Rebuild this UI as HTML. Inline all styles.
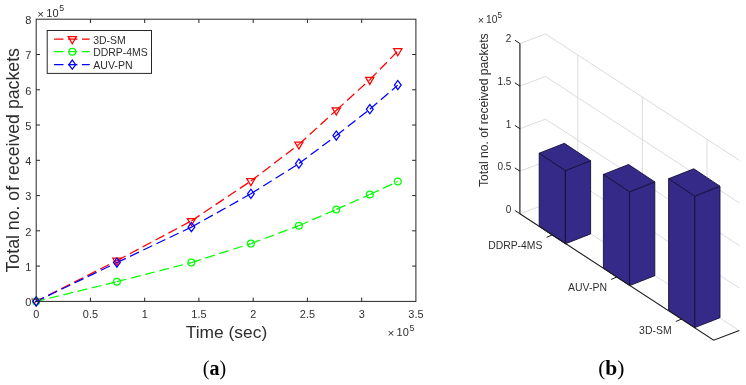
<!DOCTYPE html><html><head><meta charset="utf-8"><title>Figure</title><style>html,body{margin:0;padding:0;background:#fff}svg{display:block;will-change:transform}text{font-family:"Liberation Sans",sans-serif;fill:#2e2e2e}.s{font-family:"Liberation Serif",serif;fill:#000}</style></head><body>
<svg width="746" height="385" viewBox="0 0 746 385">
<rect width="746" height="385" fill="#fff"/>
<g>
<g id="left">
<path d="M35.1 301.9L116.9 260.6M116.9 260.6L191.4 220.9M191.4 220.9L250.9 181.0M250.9 181.0L298.9 144.4M298.9 144.4L336.3 110.3M336.3 110.3L369.8 79.7M369.8 79.7L397.8 51.1" fill="none" stroke="#ff0000" stroke-width="1.25" stroke-dasharray="9.9 4.7"/>
<path d="M35.0 301.7L116.9 281.7M116.9 281.7L191.4 262.6M191.4 262.6L250.9 243.6M250.9 243.6L298.9 225.7M298.9 225.7L336.3 209.4M336.3 209.4L369.8 194.5M369.8 194.5L397.8 181.5" fill="none" stroke="#00ff00" stroke-width="1.25" stroke-dasharray="9.9 4.7"/>
<path d="M35.1 301.9L116.9 262.6M116.9 262.6L191.4 227.1M191.4 227.1L250.9 193.8M250.9 193.8L298.9 163.6M298.9 163.6L336.3 135.6M336.3 135.6L369.8 109.2M369.8 109.2L397.8 85.1" fill="none" stroke="#0000ff" stroke-width="1.25" stroke-dasharray="9.9 4.7"/>
<polygon points="32.1,299.0 40.3,299.0 36.2,306.1" fill="none" stroke="#ff0000" stroke-width="1.25"/>
<polygon points="112.8,258.2 121.0,258.2 116.9,265.3" fill="none" stroke="#ff0000" stroke-width="1.25"/>
<polygon points="187.3,218.5 195.5,218.5 191.4,225.6" fill="none" stroke="#ff0000" stroke-width="1.25"/>
<polygon points="246.8,178.6 255.0,178.6 250.9,185.7" fill="none" stroke="#ff0000" stroke-width="1.25"/>
<polygon points="294.8,142.0 303.0,142.0 298.9,149.1" fill="none" stroke="#ff0000" stroke-width="1.25"/>
<polygon points="332.2,107.9 340.4,107.9 336.3,115.0" fill="none" stroke="#ff0000" stroke-width="1.25"/>
<polygon points="365.7,77.3 373.9,77.3 369.8,84.4" fill="none" stroke="#ff0000" stroke-width="1.25"/>
<polygon points="393.7,48.7 401.9,48.7 397.8,55.8" fill="none" stroke="#ff0000" stroke-width="1.25"/>
<circle cx="36.2" cy="301.4" r="3.4" fill="none" stroke="#00ff00" stroke-width="1.25"/>
<circle cx="116.9" cy="281.7" r="3.4" fill="none" stroke="#00ff00" stroke-width="1.25"/>
<circle cx="191.4" cy="262.6" r="3.4" fill="none" stroke="#00ff00" stroke-width="1.25"/>
<circle cx="250.9" cy="243.6" r="3.4" fill="none" stroke="#00ff00" stroke-width="1.25"/>
<circle cx="298.9" cy="225.7" r="3.4" fill="none" stroke="#00ff00" stroke-width="1.25"/>
<circle cx="336.3" cy="209.4" r="3.4" fill="none" stroke="#00ff00" stroke-width="1.25"/>
<circle cx="369.8" cy="194.5" r="3.4" fill="none" stroke="#00ff00" stroke-width="1.25"/>
<circle cx="397.8" cy="181.5" r="3.4" fill="none" stroke="#00ff00" stroke-width="1.25"/>
<polygon points="32.8,301.4 36.2,296.8 39.6,301.4 36.2,306.0" fill="none" stroke="#0000ff" stroke-width="1.25"/>
<polygon points="113.5,262.6 116.9,258.0 120.3,262.6 116.9,267.2" fill="none" stroke="#0000ff" stroke-width="1.25"/>
<polygon points="188.0,227.1 191.4,222.5 194.8,227.1 191.4,231.7" fill="none" stroke="#0000ff" stroke-width="1.25"/>
<polygon points="247.5,193.8 250.9,189.2 254.3,193.8 250.9,198.4" fill="none" stroke="#0000ff" stroke-width="1.25"/>
<polygon points="295.5,163.6 298.9,159.0 302.3,163.6 298.9,168.2" fill="none" stroke="#0000ff" stroke-width="1.25"/>
<polygon points="332.9,135.6 336.3,131.0 339.7,135.6 336.3,140.2" fill="none" stroke="#0000ff" stroke-width="1.25"/>
<polygon points="366.4,109.2 369.8,104.6 373.2,109.2 369.8,113.8" fill="none" stroke="#0000ff" stroke-width="1.25"/>
<polygon points="394.4,85.1 397.8,80.5 401.2,85.1 397.8,89.7" fill="none" stroke="#0000ff" stroke-width="1.25"/>
<rect x="36.2" y="19.2" width="379.7" height="282.2" fill="none" stroke="#262626" stroke-width="1"/>
<path d="M90.4 301.4V297.6M90.4 19.2V23.0M144.7 301.4V297.6M144.7 19.2V23.0M198.9 301.4V297.6M198.9 19.2V23.0M253.2 301.4V297.6M253.2 19.2V23.0M307.4 301.4V297.6M307.4 19.2V23.0M361.7 301.4V297.6M361.7 19.2V23.0M36.2 266.1H40.0M415.9 266.1H412.1M36.2 230.8H40.0M415.9 230.8H412.1M36.2 195.6H40.0M415.9 195.6H412.1M36.2 160.3H40.0M415.9 160.3H412.1M36.2 125.0H40.0M415.9 125.0H412.1M36.2 89.8H40.0M415.9 89.8H412.1M36.2 54.5H40.0M415.9 54.5H412.1" stroke="#262626" stroke-width="1" fill="none"/>
<text x="36.2" y="318.1" font-size="10.9" text-anchor="middle">0</text>
<text x="90.4" y="318.1" font-size="10.9" text-anchor="middle">0.5</text>
<text x="144.7" y="318.1" font-size="10.9" text-anchor="middle">1</text>
<text x="198.9" y="318.1" font-size="10.9" text-anchor="middle">1.5</text>
<text x="253.2" y="318.1" font-size="10.9" text-anchor="middle">2</text>
<text x="307.4" y="318.1" font-size="10.9" text-anchor="middle">2.5</text>
<text x="361.7" y="318.1" font-size="10.9" text-anchor="middle">3</text>
<text x="415.9" y="318.1" font-size="10.9" text-anchor="middle">3.5</text>
<text x="31.3" y="306.1" font-size="11" text-anchor="end">0</text>
<text x="31.3" y="270.8" font-size="11" text-anchor="end">1</text>
<text x="31.3" y="235.5" font-size="11" text-anchor="end">2</text>
<text x="31.3" y="200.3" font-size="11" text-anchor="end">3</text>
<text x="31.3" y="165.0" font-size="11" text-anchor="end">4</text>
<text x="31.3" y="129.7" font-size="11" text-anchor="end">5</text>
<text x="31.3" y="94.5" font-size="11" text-anchor="end">6</text>
<text x="31.3" y="59.2" font-size="11" text-anchor="end">7</text>
<text x="31.3" y="23.9" font-size="11" text-anchor="end">8</text>
<text x="37.3" y="18.2" font-size="11.6">×</text><text x="46.3" y="17.3" font-size="11.0">10</text><text x="59.2" y="11.4" font-size="8.8">5</text>
<text x="387.6" y="337.3" font-size="11.6">×</text><text x="396.6" y="336.4" font-size="11.0">10</text><text x="409.5" y="330.5" font-size="8.8">5</text>
<text x="226.5" y="338.2" font-size="16.6" text-anchor="middle" textLength="81.4" lengthAdjust="spacingAndGlyphs">Time (sec)</text>
<text transform="translate(19.0 160.3) rotate(-90)" font-size="17.7" text-anchor="middle" textLength="224.4" lengthAdjust="spacingAndGlyphs">Total no. of received packets</text>
<rect x="47.2" y="30.5" width="104.3" height="42.9" fill="#fff" stroke="#262626" stroke-width="1"/>
<path d="M54.1 39.0H89.7" stroke="#ff0000" stroke-width="1.25" stroke-dasharray="9.4 4.5" fill="none"/>
<polygon points="68.2,36.6 76.4,36.6 72.3,43.7" fill="none" stroke="#ff0000" stroke-width="1.25"/>
<text x="93.2" y="43.5" font-size="10.5" textLength="32.5" lengthAdjust="spacingAndGlyphs" fill="#111">3D-SM</text>
<path d="M54.1 51.7H89.7" stroke="#00ff00" stroke-width="1.25" stroke-dasharray="9.4 4.5" fill="none"/>
<circle cx="72.3" cy="51.7" r="3.4" fill="none" stroke="#00ff00" stroke-width="1.25"/>
<text x="93.2" y="56.2" font-size="10.5" textLength="54.5" lengthAdjust="spacingAndGlyphs" fill="#111">DDRP-4MS</text>
<path d="M54.1 64.7H89.7" stroke="#0000ff" stroke-width="1.25" stroke-dasharray="9.4 4.5" fill="none"/>
<polygon points="68.9,64.7 72.3,60.1 75.7,64.7 72.3,69.3" fill="none" stroke="#0000ff" stroke-width="1.25"/>
<text x="93.2" y="69.2" font-size="10.5" textLength="39.4" lengthAdjust="spacingAndGlyphs" fill="#111">AUV-PN</text>
<text class="s" x="214.5" y="374.6" font-size="20" text-anchor="middle">(<tspan font-weight="bold">a</tspan>)</text>
</g>
<g id="right">
<path d="M519.9 213.8L545.5 204.2L739.3 330.6M519.9 171.2L545.5 161.6L739.3 288.0M519.9 128.7L545.5 119.1L739.3 245.5M519.9 86.1L545.5 76.5L739.3 202.9M519.9 43.5L545.5 33.9L739.3 160.3M577.8 225.3V55.0M552.2 234.9L577.8 225.3M642.4 267.4V97.1M616.8 277.0L642.4 267.4M707.0 309.5V139.2M681.4 319.1L707.0 309.5" stroke="#dcdcdc" stroke-width="1" fill="none"/>
<polygon points="539.2,226.4 565.4,243.8 565.4,170.6 539.2,153.2" fill="#352a87" stroke="#15103a" stroke-width="0.9" stroke-linejoin="round"/>
<polygon points="565.4,243.8 590.6,233.9 590.6,160.7 565.4,170.6" fill="#352a87" stroke="#15103a" stroke-width="0.9" stroke-linejoin="round"/>
<polygon points="539.2,153.2 565.4,170.6 590.6,160.7 564.4,143.3" fill="#352a87" stroke="#15103a" stroke-width="0.9" stroke-linejoin="round"/>
<polygon points="603.4,268.2 629.6,285.6 629.6,191.8 603.4,174.4" fill="#352a87" stroke="#15103a" stroke-width="0.9" stroke-linejoin="round"/>
<polygon points="629.6,285.6 654.8,275.7 654.8,181.9 629.6,191.8" fill="#352a87" stroke="#15103a" stroke-width="0.9" stroke-linejoin="round"/>
<polygon points="603.4,174.4 629.6,191.8 654.8,181.9 628.6,164.5" fill="#352a87" stroke="#15103a" stroke-width="0.9" stroke-linejoin="round"/>
<polygon points="668.6,310.2 694.8,327.6 694.8,196.1 668.6,178.7" fill="#352a87" stroke="#15103a" stroke-width="0.9" stroke-linejoin="round"/>
<polygon points="694.8,327.6 720.0,317.7 720.0,186.2 694.8,196.1" fill="#352a87" stroke="#15103a" stroke-width="0.9" stroke-linejoin="round"/>
<polygon points="668.6,178.7 694.8,196.1 720.0,186.2 693.8,168.8" fill="#352a87" stroke="#15103a" stroke-width="0.9" stroke-linejoin="round"/>
<path d="M519.9 213.8V43.5" stroke="#262626" stroke-width="1.2" fill="none"/>
<path d="M519.9 213.8L713.7 340.2L739.3 330.6" stroke="#1a1a1a" stroke-width="1.1" fill="none" stroke-linejoin="miter"/>
<text x="511.3" y="212.6" font-size="10" text-anchor="end">0</text>
<text x="511.3" y="170.0" font-size="10" text-anchor="end">0.5</text>
<text x="511.3" y="127.5" font-size="10" text-anchor="end">1</text>
<text x="511.3" y="84.9" font-size="10" text-anchor="end">1.5</text>
<text x="511.3" y="42.3" font-size="10" text-anchor="end">2</text>
<text x="542.4" y="249.4" font-size="10.4" text-anchor="end" textLength="54.2" lengthAdjust="spacingAndGlyphs">DDRP-4MS</text>
<text x="607.0" y="291.4" font-size="10.4" text-anchor="end" textLength="38.9" lengthAdjust="spacingAndGlyphs">AUV-PN</text>
<text x="671.6" y="333.8" font-size="10.4" text-anchor="end" textLength="32.5" lengthAdjust="spacingAndGlyphs">3D-SM</text>
<path d="M519.9 213.8l-5.0 -3.3M519.9 171.2l-5.0 -3.3M519.9 128.7l-5.0 -3.3M519.9 86.1l-5.0 -3.3M519.9 43.5l-5.0 -3.3M552.2 234.9l-5.6 2.4M616.8 277.0l-5.6 2.4M681.4 319.1l-5.6 2.4" stroke="#1a1a1a" stroke-width="1" fill="none"/>
<text x="477.8" y="23.6" font-size="10.799999999999999">×</text><text x="486.0" y="22.7" font-size="10.2">10</text><text x="497.4" y="18.1" font-size="8.2">5</text>
<text transform="translate(488.2 110.2) rotate(-90)" font-size="12" text-anchor="middle" textLength="153.7" lengthAdjust="spacingAndGlyphs">Total no. of received packets</text>
<text class="s" x="611.3" y="374.6" font-size="21.5" text-anchor="middle">(<tspan font-weight="bold">b</tspan>)</text>
</g>
</g>
</svg></body></html>
